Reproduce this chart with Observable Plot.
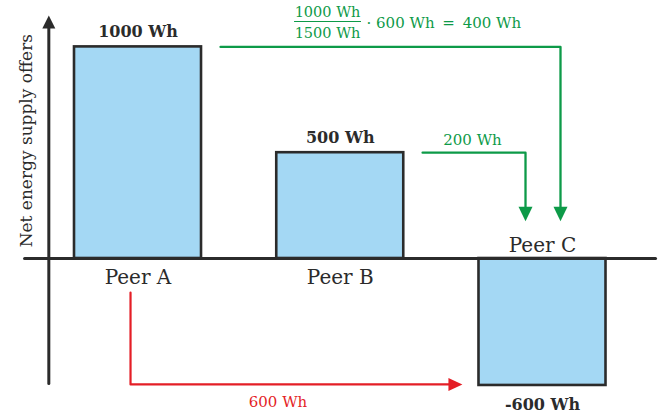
<!DOCTYPE html>
<html>
<head>
<meta charset="utf-8">
<script src="https://cdn.jsdelivr.net/npm/d3@7"></script>
<script src="https://cdn.jsdelivr.net/npm/@observablehq/plot@0.6"></script>
<style>
  html, body { margin: 0; padding: 0; background: #fff; }
</style>
</head>
<body>
<div id="chart"></div>
<script>
// ---- data ----
const peers = ["Peer A", "Peer B", "Peer C"];
const offers = [1000, 500, -600];            // Wh
const unit = "Wh";
const greenFlows = [400, 200];               // Wh delivered to Peer C from A and B
const redFlow = 600;                          // Wh demanded by Peer C
const totalSupply = 1500;                     // Wh
const axisLabel = "Net energy supply offers";

// ---- styles ----
const BLUE = "#a4d8f4", DARK = "#2b2b2b", GREEN = "#0d9a48", RED = "#e41e26";
const FONT = "DejaVu Serif";
const half = 0.314;  // half bar width in peer units

const bars = peers.map((p, i) => ({peer: p, i, v: offers[i]}));

// custom filled arrow heads (tip at the point)
const headUp = {draw(c) { c.moveTo(0, 0); c.lineTo(-6.5, 13); c.lineTo(6.5, 13); c.closePath(); }};
const headDown = {draw(c) { c.moveTo(0, 0); c.lineTo(-7, -14.5); c.lineTo(7, -14.5); c.closePath(); }};
const headRight = {draw(c) { c.moveTo(0, 0); c.lineTo(-14, -6.5); c.lineTo(-14, 6.5); c.closePath(); }};

const A = 0, B = 1, C = 2;
const axisX = A - 0.441;
const tipY = 176;          // value level of green arrow tips
const redTop = -161;

const green1 = [{x: A + 0.408, y: offers[A]}, {x: C + 0.089, y: offers[A]}, {x: C + 0.089, y: tipY + 30}];
const green2 = [{x: B + 0.407, y: offers[B]}, {x: C - 0.084, y: offers[B]}, {x: C - 0.084, y: tipY + 30}];
const red = [{x: A - 0.037, y: redTop}, {x: A - 0.037, y: offers[C] + 5}, {x: C - 0.43, y: offers[C] + 5}];

const fracX = 0.937;

const chart = Plot.plot({
  width: 670,
  height: 416,
  marginTop: 0, marginBottom: 0, marginLeft: 0, marginRight: 0,
  x: {domain: [-0.6799, 2.6329], axis: null},
  y: {domain: [-746.7, 1219.3], axis: null},
  style: {fontFamily: FONT, background: "#fff", color: DARK},
  marks: [
    // bars
    Plot.rect(bars, {x1: d => d.i - half, x2: d => d.i + half, y1: 0, y2: "v",
      fill: BLUE, stroke: DARK, strokeWidth: 2.6}),
    // zero line
    Plot.line([{x: -0.561, y: 0}, {x: 2.559, y: 0}], {x: "x", y: "y", stroke: DARK, strokeWidth: 3}),
    // y axis with arrow
    Plot.line([{x: axisX, y: -591}, {x: axisX, y: 1100}], {x: "x", y: "y", stroke: DARK, strokeWidth: 3}),
    Plot.dot([{x: axisX, y: 1148}], {x: "x", y: "y", symbol: headUp, fill: DARK, stroke: "none"}),
    Plot.text([axisLabel], {x: axisX - 0.11, y: 557, text: d => d, rotate: -90,
      fontSize: 17, fill: DARK, textAnchor: "middle", lineAnchor: "middle"}),
    // value labels
    Plot.text(bars.filter(d => d.v > 0), {x: "i", y: "v", text: d => `${d.v} ${unit}`, fontSize: 16, fontWeight: "bold",
      fill: DARK, lineAnchor: "bottom", dy: -10}),
    Plot.text(bars.filter(d => d.v < 0), {x: "i", y: "v", text: d => `${d.v} ${unit}`, fontSize: 16, fontWeight: "bold",
      fill: DARK, lineAnchor: "bottom", dy: 25}),
    // peer labels
    Plot.text(bars.filter(d => d.v > 0), {x: "i", y: 0, text: "peer", fontSize: 20, fill: DARK,
      lineAnchor: "bottom", dy: 25}),
    Plot.text(bars.filter(d => d.v < 0), {x: "i", y: 0, text: "peer", fontSize: 20, fill: DARK,
      lineAnchor: "bottom", dy: -7}),
    // green flows
    Plot.line(green1, {x: "x", y: "y", stroke: GREEN, strokeWidth: 2.3}),
    Plot.line(green2, {x: "x", y: "y", stroke: GREEN, strokeWidth: 2.3}),
    Plot.dot([green1[2], green2[2]], {x: "x", y: () => tipY, symbol: headDown, fill: GREEN, stroke: "none"}),
    Plot.text([`${greenFlows[1]} ${unit}`], {x: B + 0.654, y: offers[B], text: d => d, fontSize: 15,
      fill: GREEN, lineAnchor: "bottom", dy: -8}),
    // fraction formula
    Plot.text([`${offers[A]} ${unit}`], {x: fracX, y: offers[A], text: d => d, fontSize: 14.5,
      fill: GREEN, lineAnchor: "bottom", dy: -29.5}),
    Plot.text([`${totalSupply} ${unit}`], {x: fracX, y: offers[A], text: d => d, fontSize: 14.5,
      fill: GREEN, lineAnchor: "bottom", dy: -8.5}),
    Plot.ruleY([offers[A]], {x1: 0.774, x2: 1.105, dy: -25.4, stroke: GREEN, strokeWidth: 1.2}),
    Plot.text([`\u00b7 ${redFlow} ${unit} \u2009=\u2009 ${greenFlows[0]} ${unit}`], {x: 1.13, y: offers[A], text: d => d,
      fontSize: 15, fill: GREEN, textAnchor: "start", lineAnchor: "bottom", dy: -19.4}),
    // red flow
    Plot.line(red, {x: "x", y: "y", stroke: RED, strokeWidth: 2.2}),
    Plot.dot([red[2]], {x: C - 0.396, y: "y", symbol: headRight, fill: RED, stroke: "none"}),
    Plot.text([`${redFlow} ${unit}`], {x: 0.692, y: offers[C], text: d => d, fontSize: 15,
      fill: RED, lineAnchor: "bottom", dy: 22})
  ]
});

document.getElementById("chart").appendChild(chart);
</script>
</body>
</html>
